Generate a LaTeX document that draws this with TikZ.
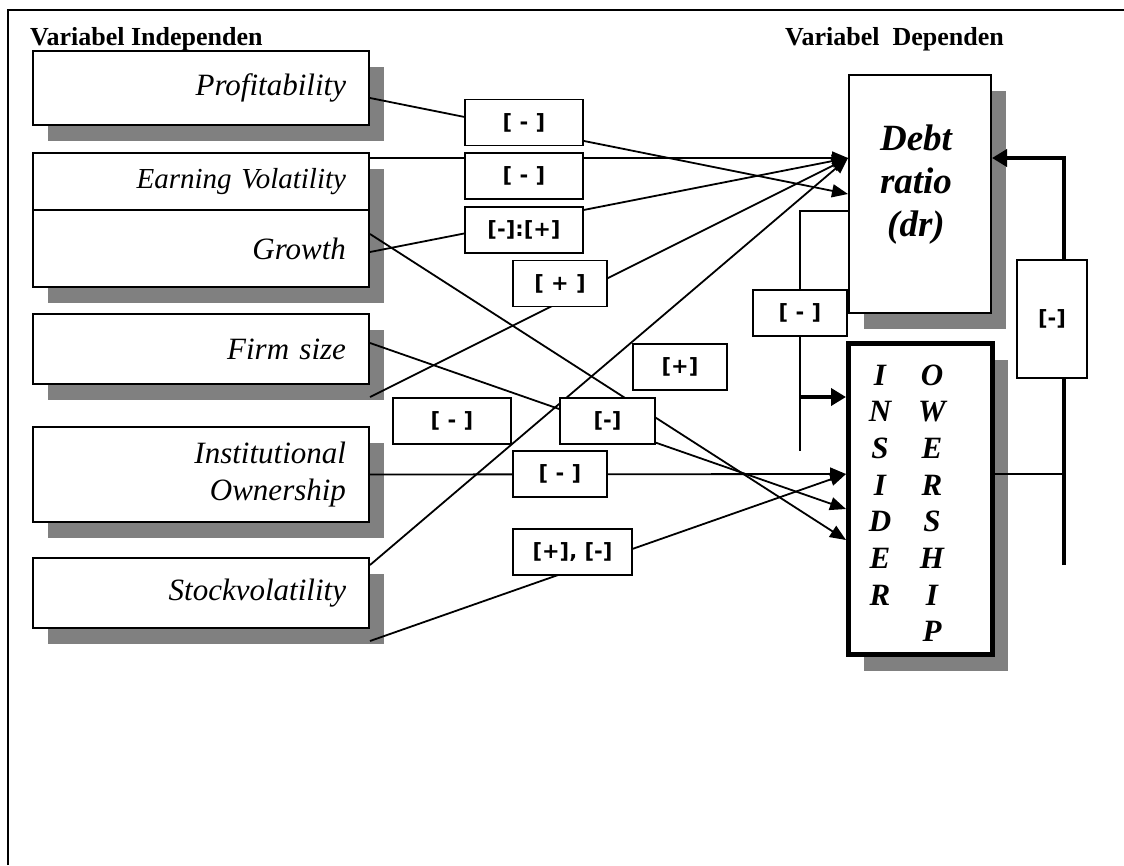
\documentclass[tikz,border=0pt]{standalone}
\usepackage{fontspec}
\setmainfont{Liberation Serif}
\newfontfamily\signfont{DejaVu Sans}
\usetikzlibrary{positioning,shadows,arrows.meta}

\begin{document}
\begin{tikzpicture}[x=1pt, y=-1pt,
  shade/.style={drop shadow={shadow xshift=15pt, shadow yshift=-16pt, fill=black!50, opacity=1}},
  varbox/.style={draw=black, line width=2pt, fill=white, shade, text width=290pt, inner xsep=23pt,
    inner ysep=0pt, align=right, minimum height=#1, font=\fontsize{31}{37}\selectfont\itshape},
  signbox/.style={draw=black, line width=1.8pt, fill=white, inner sep=0pt, minimum width=#1,
    minimum height=46pt, font=\signfont\bfseries\fontsize{21}{25}\selectfont},
  signbox/.default=94pt,
  link/.style={line width=1.8pt, -{Triangle[length=16pt, width=13pt]}},
  fat/.style={line width=4.5pt, -{Triangle[length=15pt, width=17pt]}},
  head/.style={font=\fontsize{26}{30}\selectfont\bfseries, anchor=base west, inner sep=0pt}]
\useasboundingbox (0,0) rectangle (1124,865);
\draw [line width=2.5pt] (8,865) -- (8,10) -- (1124,10);

\node [head] (indep) at (30,45) {Variabel Independen};
\node [head] (dep) at (785,45) {Variabel~~Dependen};

\node [varbox=74pt, anchor=north west] (prof) at (32,50) {Profitability};
\node [varbox=57pt, below=26pt of prof, font=\fontsize{29}{34}\selectfont\itshape] (ev) {Earning Volatility};
\node [varbox=77pt, below=-2pt of ev] (gr) {Growth};
\node [varbox=70pt, below=25pt of gr] (fs) {Firm size};
\node [varbox=95pt, below=41pt of fs] (inst) {Institutional\\Ownership};
\node [varbox=70pt, below=34pt of inst] (sv) {Stockvolatility};

\node [draw=black, line width=2pt, fill=white, shade, minimum width=142pt, minimum height=238pt] (dr) at (920,194) {};
\node [font=\fontsize{37}{43}\selectfont\bfseries\itshape, align=center] (drtext) at (916,185) {Debt\\ratio\\(dr)};

\node [draw=black, line width=5pt, fill=white, shade, minimum width=144pt, minimum height=311pt] (ins) at (920.5,499) {};
\foreach \a/\b [count=\i] in {I/O, N/W, S/E, I/R, D/S, E/H, R/I, {}/P} {
  \node [font=\fontsize{31}{36}\selectfont\bfseries\itshape, anchor=base, inner sep=0pt] (ia\i) at (880,{385+36.7*(\i-1)}) {\a};
  \node [font=\fontsize{31}{36}\selectfont\bfseries\itshape, anchor=base, inner sep=0pt] (ib\i) at (932,{385+36.7*(\i-1)}) {\b};
}

\coordinate (drin) at ([yshift=36pt]dr.west);
\coordinate (insin) at ([yshift=25pt]ins.west);
\coordinate (insfb) at ([yshift=102pt]ins.west);
\coordinate (insout) at ([yshift=25pt]ins.east);
\coordinate (fbl) at (800,451);
\coordinate (fbr) at (1064,565);

\draw [link] ([yshift=-10pt]prof.east) -- (dr.west);
\draw [link] ([yshift=-6pt]ev.north east) -- (drin);
\draw [link] ([yshift=-3.5pt]gr.east) -- (drin);
\draw [link] ([yshift=14.5pt]gr.east) -- ([yshift=-41pt]ins.west);
\draw [link] ([yshift=-12pt]fs.south east) -- (drin);
\draw [link] ([yshift=6pt]fs.east) -- ([yshift=-10pt]ins.west);
\draw [link] (inst.east) -- (insin);
\draw [link] ([yshift=28pt]sv.east) -- (drin);
\draw [link] ([yshift=-12pt]sv.south east) -- (insin);

\draw [line width=1.8pt] ([yshift=-17pt]dr.west) -| (fbl);
\draw [fat] (fbl |- insfb) -- (insfb);
\draw [line width=1.8pt] (insout) -- (insout -| fbr);
\draw [fat] (fbr) |- ([yshift=36pt]dr.east);

\node [signbox=118pt] (s1) at (524,122.5) {[ - ]};
\node [signbox=118pt] (s2) at (524,176) {[ - ]};
\node [signbox=118pt] (s3) at (524,230) {[-]:[+]};
\node [signbox] (s4) at (560,283.5) {[ + ]};
\node [signbox] (s5) at (680,367) {[+]};
\node [signbox=118pt] (s6) at (452,421) {[ - ]};
\node [signbox=95pt] (s7) at (607.5,421) {[-]};
\node [signbox] (s8) at (560,474) {[ - ]};
\node [signbox=119pt] (s9) at (572.5,552) {[+], [-]};
\node [signbox] (s10) at (800,313) {[ - ]};
\node [signbox=70pt, minimum height=118pt] (s11) at (1052,319) {[-]};
\end{tikzpicture}
\end{document}
